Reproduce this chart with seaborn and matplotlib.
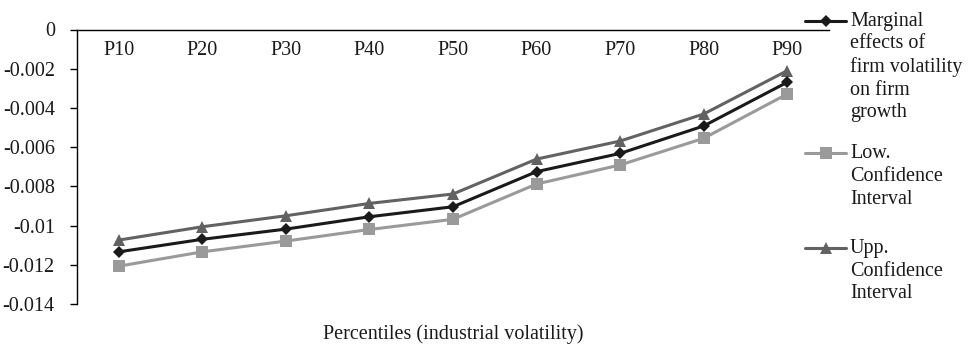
import numpy as np
import pandas as pd
import matplotlib
matplotlib.use("Agg")
import matplotlib.pyplot as plt
from matplotlib.lines import Line2D
import seaborn as sns

percentiles = ["P10", "P20", "P30", "P40", "P50", "P60", "P70", "P80", "P90"]
marginal = [-0.01134, -0.0107, -0.01018, -0.00955, -0.00904, -0.00725, -0.00632, -0.00492, -0.00269]
low_ci = [-0.01207, -0.01134, -0.01079, -0.0102, -0.00968, -0.00788, -0.00691, -0.00555, -0.00329]
upp_ci = [-0.01074, -0.01006, -0.0095, -0.00887, -0.00839, -0.00661, -0.00569, -0.00431, -0.0021]
series_names = ["Marginal\neffects of\nfirm volatility\non firm\ngrowth",
                "Low.\nConfidence\nInterval",
                "Upp.\nConfidence\nInterval"]
y_ticks = [0, -0.002, -0.004, -0.006, -0.008, -0.01, -0.012, -0.014]
x_label = "Percentiles (industrial volatility)"

colors = ["#1a1a1a", "#9a9a9a", "#626262"]
markers = ["D", "s", "^"]
msizes = [6.5, 8, 8.5]
FS = 14.5

sns.set_theme(style="white")
plt.rcParams["font.family"] = ["Liberation Serif", "DejaVu Serif"]
plt.rcParams["axes.unicode_minus"] = False

W, H = 969, 347
fig = plt.figure(figsize=(W / 100, H / 100), dpi=100)
left, right = 77 / W, 829 / W
top, bottom = 1 - 29.5 / H, 1 - 304 / H
ax = fig.add_axes([left, bottom, right - left, top - bottom])

rows = []
for name, vals in zip(series_names, [marginal, low_ci, upp_ci]):
    for p, v in zip(percentiles, vals):
        rows.append({"pct": p, "val": v, "series": name})
df = pd.DataFrame(rows)
df["pos"] = df["pct"].map({p: i for i, p in enumerate(percentiles)})

order = [1, 2, 0]
for i in order:
    name = series_names[i]
    sub = df[df["series"] == name]
    sns.lineplot(data=sub, x="pos", y="val", ax=ax, color=colors[i],
                 marker=markers[i], markersize=msizes[i], markeredgewidth=0,
                 linewidth=2.2, sort=False, legend=False, errorbar=None)

ax.set_xlim(-0.5, len(percentiles) - 0.5)
ax.set_ylim(-0.014, 0)
ax.set_xticks(range(len(percentiles)))
ax.set_xticklabels(percentiles, fontsize=FS)
ax.set_yticks(y_ticks)
ax.set_yticklabels([f"{v:g}" for v in y_ticks], fontsize=FS)
ax.set_xlabel("")
ax.set_ylabel("")

for s in ["right", "bottom"]:
    ax.spines[s].set_visible(False)
ax.spines["top"].set_visible(True)
ax.spines["top"].set_color("black")
ax.spines["top"].set_linewidth(1.0)
ax.spines["left"].set_color("black")
ax.spines["left"].set_linewidth(1.0)

ax.xaxis.set_ticks_position("top")
ax.tick_params(axis="x", which="both", top=False, bottom=False, labeltop=True,
               labelbottom=False, length=0, pad=-8, colors="#1a1a1a")
for lab in ax.get_xticklabels():
    lab.set_verticalalignment("top")
ax.tick_params(axis="y", left=True, length=5, width=1, pad=11, colors="black",
               labelcolor="#1a1a1a")
ax.grid(False)

fig.text((left + right) / 2, 1 - 334 / H, x_label, ha="center", va="center",
         fontsize=FS, color="#1a1a1a")

legend_y = [20.5, 153, 248]
for i, yy in enumerate(legend_y):
    yf = 1 - yy / H
    fig.add_artist(Line2D([805 / W, 846 / W], [yf, yf], color=colors[i], lw=2.2,
                          transform=fig.transFigure))
    fig.add_artist(Line2D([825.5 / W], [yf], color=colors[i], marker=markers[i],
                          markersize=msizes[i], markeredgewidth=0, linestyle="none",
                          transform=fig.transFigure))
    fig.text(850 / W, 1 - (yy - 8.5) / H, series_names[i], ha="left", va="top",
             fontsize=FS, linespacing=1.25, color="#1a1a1a")

fig.savefig("out.png", dpi=100, facecolor="white")
